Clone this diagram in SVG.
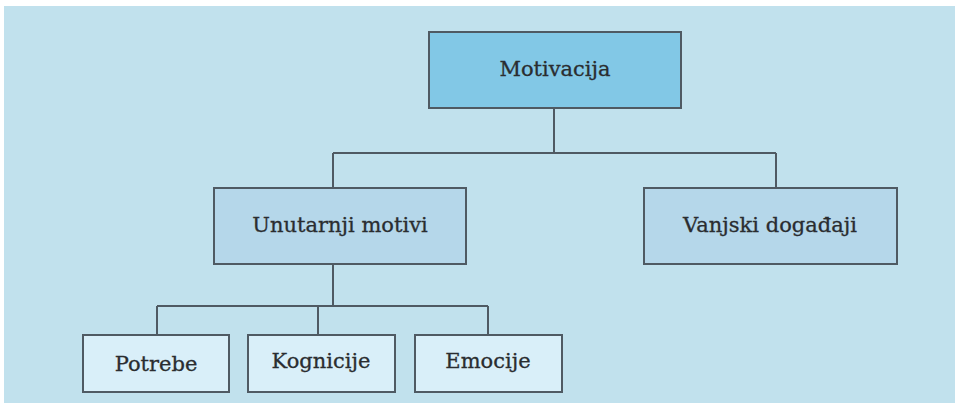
<svg xmlns="http://www.w3.org/2000/svg" width="955" height="403" viewBox="0 0 955 403">
<style>
.bg{fill:#c1e1ed}
.box{stroke:#4f5a63;stroke-width:2}
.l1{fill:#82c8e6}
.l2{fill:#b5d7ea}
.l3{fill:#d9eff9}
.t{font-family:"DejaVu Serif",serif;font-size:21px;fill:#2a2d30;text-anchor:middle;dominant-baseline:central;stroke:#2a2d30;stroke-width:0.3}
.c{fill:none;stroke:#4f5a63;stroke-width:2}
</style>
<rect x="0" y="0" width="955" height="403" fill="#ffffff"/>
<rect class="bg" x="4" y="6" width="951" height="397"/>
<g id="connectors">
<path class="c" d="M554,108 V153 M333,153 H776 M333,153 V188 M776,153 V188"/>
<path class="c" d="M333,264 V306 M157,306 H488 M157,306 V335 M318,306 V335 M488,306 V335"/>
</g>
<g id="motivacija">
<rect class="box l1" x="429" y="32" width="252" height="76"/>
<text class="t" x="555" y="69">Motivacija</text>
</g>
<g id="unutarnji">
<rect class="box l2" x="214" y="188" width="252" height="76"/>
<text class="t" x="340" y="225">Unutarnji motivi</text>
</g>
<g id="vanjski">
<rect class="box l2" x="644" y="188" width="253" height="76"/>
<text class="t" x="770" y="225">Vanjski događaji</text>
</g>
<g id="potrebe">
<rect class="box l3" x="83" y="335" width="146" height="57"/>
<text class="t" x="156" y="364">Potrebe</text>
</g>
<g id="kognicije">
<rect class="box l3" x="248" y="335" width="147" height="57"/>
<text class="t" x="321" y="361">Kognicije</text>
</g>
<g id="emocije">
<rect class="box l3" x="415" y="335" width="147" height="57"/>
<text class="t" x="488" y="361">Emocije</text>
</g>
</svg>
